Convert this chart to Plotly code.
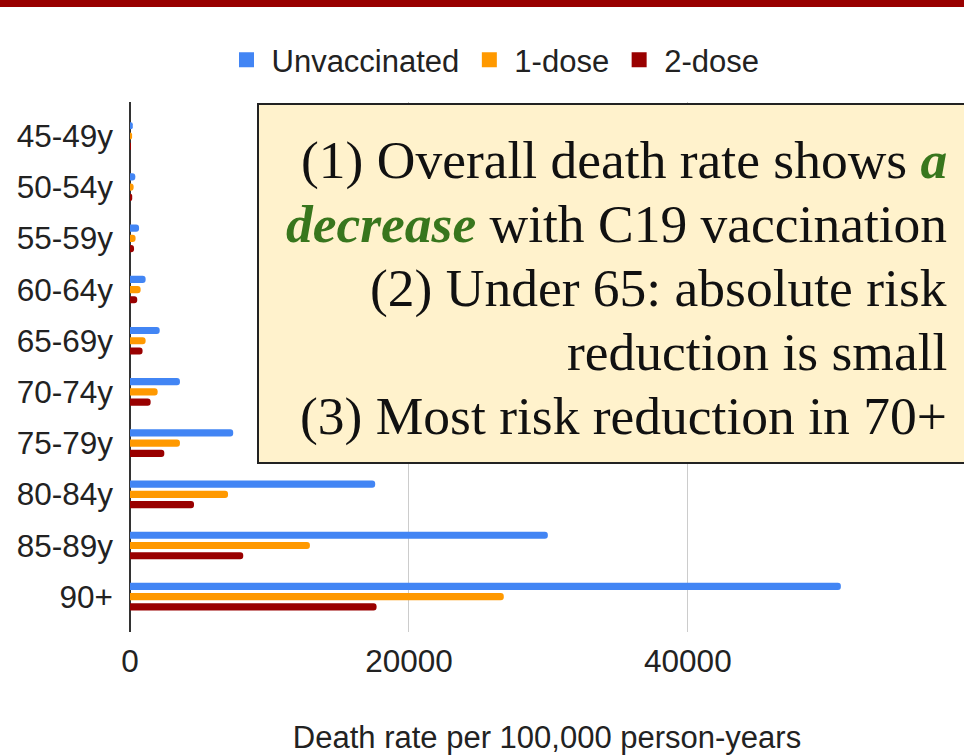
import plotly.graph_objects as go

# age bands, top to bottom
ages = ["45-49y", "50-54y", "55-59y", "60-64y", "65-69y",
        "70-74y", "75-79y", "80-84y", "85-89y", "90+"]

# death rate per 100,000 person-years
unvaccinated = [200, 380, 650, 1120, 2130, 3580, 7400, 17580, 29960, 50970]
one_dose = [150, 260, 400, 760, 1120, 1980, 3580, 7030, 12900, 26800]
two_dose = [60, 160, 290, 520, 900, 1480, 2460, 4590, 8120, 17680]

series = [("Unvaccinated", unvaccinated, "#4285f4"),
          ("1-dose", one_dose, "#ff9900"),
          ("2-dose", two_dose, "#990000")]

note_lines = [
    "(1) Overall death rate shows <span style='color:#38761d'><b><i>a</i></b></span>",
    "<span style='color:#38761d'><b><i>decrease</i></b></span> with C19 vaccination",
    "(2) Under 65: absolute risk",
    "reduction is small",
    "(3) Most risk reduction in 70+",
]

fig = go.Figure()
for name, vals, col in series:
    fig.add_trace(go.Bar(y=ages, x=vals, name=name, orientation="h", showlegend=False,
                         marker=dict(color=col, cornerradius=3, line_width=0)))
# bigger legend swatches
for name, vals, col in series:
    fig.add_trace(go.Scatter(x=[None], y=[None], mode="markers", name=name,
                             marker=dict(symbol="square", size=15, color=col)))

# plot area geometry in px (used to place paper-coord extras)
top, bottom, left = 102, 632, 130
H = bottom - top
W = 964 - left


def py(p):
    return (bottom - p) / H


def px_(p):
    return (p - left) / W


fig.update_layout(
    width=964, height=755,
    margin=dict(l=left, r=0, t=top, b=755 - bottom),
    paper_bgcolor="white", plot_bgcolor="white",
    font=dict(family="Liberation Sans, Arial, sans-serif", size=31, color="#222"),
    barmode="group", bargap=0.4, bargroupgap=0.3,
    showlegend=True,
    legend=dict(orientation="h", x=px_(493), xanchor="center", y=py(60), yanchor="middle",
                font=dict(size=31, color="#222"), itemwidth=40, traceorder="normal"),
)

fig.update_xaxes(range=[0, 59800], tickvals=[0, 20000, 40000],
                 ticktext=["0", "20000", "40000"], tickfont=dict(size=31.5),
                 showgrid=True, gridcolor="#cccccc", gridwidth=1,
                 zeroline=True, zerolinecolor="#333333", zerolinewidth=2,
                 ticks="outside", ticklen=1, tickcolor="rgba(0,0,0,0)",
                 title=dict(text="Death rate per 100,000 person-years",
                            font=dict(size=31, color="#222"), standoff=50),
                 showline=False)
fig.update_yaxes(categoryorder="array", categoryarray=ages, tickfont=dict(size=31.5),
                 range=[9.69, -0.664], showgrid=False, zeroline=False,
                 showline=False, ticks="", ticklabelstandoff=16)

# dark red rule across the top
fig.add_shape(type="rect", xref="paper", yref="paper",
              x0=-0.2, x1=1.1, y0=py(7), y1=py(-5),
              fillcolor="#990000", line_width=0, layer="above")

# note box (runs off the right edge)
fig.add_shape(type="rect", xref="paper", yref="paper",
              x0=px_(258), x1=1.1, y0=py(463), y1=py(104),
              fillcolor="#fff2cc", line=dict(color="#222222", width=2), layer="above")

for i, txt in enumerate(note_lines):
    fig.add_annotation(xref="paper", yref="paper", x=px_(949), y=py(160 + 64 * i),
                       xanchor="right", yanchor="middle", align="right",
                       showarrow=False, text=txt,
                       font=dict(family="Liberation Serif, Times New Roman, serif",
                                 size=53.5, color="#111"))

# page body has an 8px default margin; drop it so the figure sits at 0,0
fig.write_html("out.html", config={"displayModeBar": False},
               post_script="document.body.style.margin='0';")
